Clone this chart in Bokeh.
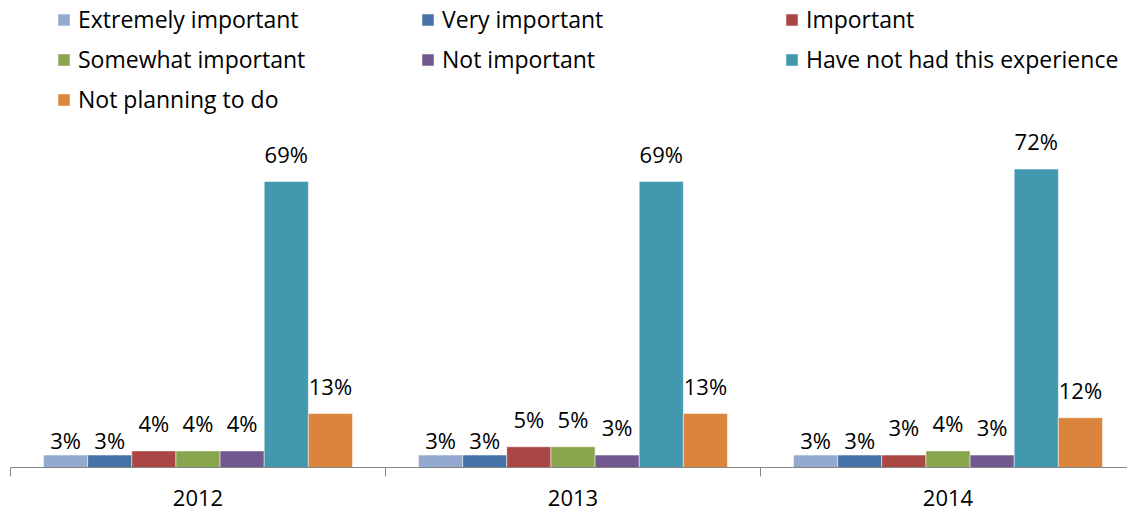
from bokeh.plotting import figure
from bokeh.models import FixedTicker, ColumnDataSource, LabelSet, Legend, LegendItem
from bokeh.core.properties import value
from bokeh.embed import file_html
from bokeh.resources import INLINE

years = ["2012", "2013", "2014"]
series = ["Extremely important", "Very important", "Important",
          "Somewhat important", "Not important", "Have not had this experience",
          "Not planning to do"]
extremely_important = [3, 3, 3]
very_important = [3, 3, 3]
important = [4, 5, 3]
somewhat_important = [4, 5, 4]
not_important = [4, 3, 3]
have_not_had = [69, 69, 72]
not_planning = [13, 13, 12]
values = [extremely_important, very_important, important, somewhat_important,
          not_important, have_not_had, not_planning]

# styles
colors = ["#93A9CF", "#4572A7", "#AA4643", "#89A54E", "#71588F", "#4198AF", "#DB843D"]
label_offsets = [6, 6, 19, 19, 19, 19, 19]
FONT = "Open Sans"
bar_w = 0.1177

p = figure(width=1127, height=511, x_range=(0, 1117 / 375), y_range=(0, 112.67),
           output_backend="svg", toolbar_location=None, y_axis_location=None,
           min_border_left=10, min_border_right=0, min_border_top=0, min_border_bottom=44)
p.outline_line_color = None
p.xgrid.visible = False
p.ygrid.visible = False

items = []
for i, (name, vals, col, off) in enumerate(zip(series, values, colors, label_offsets)):
    xs = [g + 0.5 + (i - 3) * bar_w for g in range(len(years))]
    src = ColumnDataSource(dict(x=xs, top=vals, lab=[f"{v}%" for v in vals]))
    r = p.vbar(x="x", top="top", width=bar_w, source=src, fill_color=col,
               line_color="white", line_width=0.5)
    items.append(LegendItem(label=name, renderers=[r]))
    p.add_layout(LabelSet(x="x", y="top", text="lab", source=src, text_align="center",
                          text_baseline="alphabetic", y_offset=off, text_font=value(FONT),
                          text_font_size="22px", text_color="#000000"))

legend = Legend(items=items, orientation="horizontal", ncols=3, location=(46, 352),
                glyph_width=15, glyph_height=15, label_standoff=7, label_width=334,
                label_height=31, spacing=8, padding=0, margin=0,
                label_text_font=FONT, label_text_font_size="23px",
                label_text_color="#000000", border_line_color=None,
                background_fill_alpha=0)
p.add_layout(legend)

ax = p.xaxis[0]
ax.ticker = FixedTicker(ticks=[0.5, 1.5, 2.5], minor_ticks=[0, 1, 2, 3])
ax.major_label_overrides = {0.5: years[0], 1.5: years[1], 2.5: years[2]}
ax.major_tick_out = 0
ax.major_tick_in = 0
ax.minor_tick_out = 9
ax.minor_tick_in = 0
ax.minor_tick_line_color = "#868686"
ax.axis_line_color = "#868686"
ax.major_label_standoff = 13
ax.major_label_text_font = FONT
ax.major_label_text_font_size = "22px"
ax.major_label_text_color = "#000000"

open("out.html", "w").write(file_html(p, INLINE))
